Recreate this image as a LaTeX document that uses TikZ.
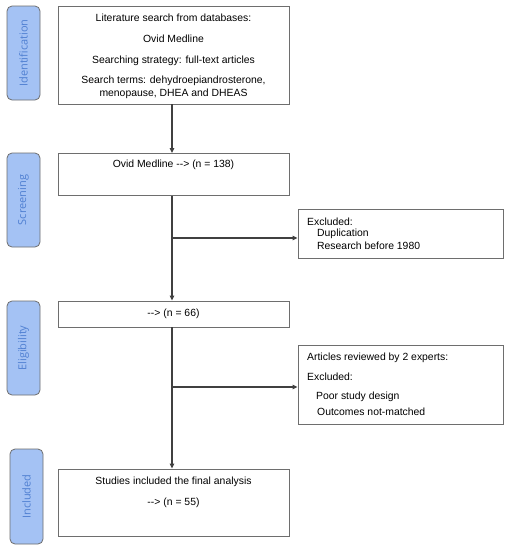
\documentclass[tikz,border=0pt]{standalone}
\usepackage{fontspec}
\setmainfont{Liberation Sans}
\newfontfamily\sidefont{Open Sans}
\usetikzlibrary{arrows.meta}
\definecolor{sidefill}{HTML}{A4C2F4}
\definecolor{sidetext}{HTML}{5080D2}
\definecolor{boxline}{HTML}{6E6E6E}
\definecolor{flowline}{HTML}{404040}
\begin{document}
\begin{tikzpicture}[x=1pt,y=-1pt,
  font=\fontsize{10.4}{12.5}\selectfont,
  sidebox/.style={draw=boxline, fill=sidefill, rounded corners=5pt, line width=0.8pt,
    minimum width=33pt, inner sep=0pt},
  sidelabel/.style={text=sidetext, rotate=90, font=\sidefont\fontsize{11}{13}\selectfont, inner sep=0pt},
  mainbox/.style={draw=boxline, line width=0.9pt, minimum width=231pt, inner sep=0pt},
  sidebox2/.style={draw=boxline, line width=0.9pt, minimum width=205pt, inner sep=0pt},
  txt/.style={inner sep=0pt, anchor=center},
  ltxt/.style={inner sep=0pt, anchor=west},
  flow/.style={draw=flowline, line width=1.1pt},
  arr/.style={flow, -{Triangle[length=5pt,width=4.5pt]}}]
\useasboundingbox (0,0) rectangle (510,550);
\fill[white] (0,0) rectangle (510,550);

% side labels
\node[sidebox, minimum height=94pt] (sid) at (23.5,53) {};
\node[sidelabel] (sidl) at (sid.center) {Identification};
\node[sidebox, minimum height=94pt] (sscr) at (23.5,200) {};
\node[sidelabel] (sscrl) at (sscr.center) {Screening};
\node[sidebox, minimum height=94pt] (selg) at (23.5,348) {};
\node[sidelabel] (selgl) at (selg.center) {Eligibility};
\node[sidebox, minimum height=95pt] (sinc) at (26.5,496.5) {};
\node[sidelabel] (sincl) at (sinc.center) {Included};

% main boxes
\node[mainbox, minimum height=98pt] (b1) at (173.5,55) {};
\node[txt] (b1a) at (173.5,18) {Literature search from databases:};
\node[txt] (b1b) at (173.5,39) {Ovid Medline};
\node[txt] (b1c) at (173.5,60.5) {Searching strategy: full-text articles};
\node[txt, align=center, font=\fontsize{10.4}{13.5}\selectfont] (b1d) at (173.5,87.5) {Search terms: dehydroepiandrosterone,\\menopause, DHEA and DHEAS};

\node[mainbox, minimum height=42pt] (b2) at (173.5,174.5) {};
\node[txt] (b2a) at (173.5,165) {Ovid Medline {-}{-}> (n = 138)};

\node[mainbox, minimum height=26pt] (b3) at (173.5,314) {};
\node[txt] (b3a) at (173.5,314) {{-}{-}> (n = 66)};

\node[mainbox, minimum height=67pt] (b4) at (173.5,502.5) {};
\node[txt] (b4a) at (173.5,482) {Studies included the final analysis};
\node[txt] (b4b) at (173.5,503) {{-}{-}> (n = 55)};

% exclusion boxes
\node[sidebox2, minimum height=49pt] (e1) at (400.5,233.5) {};
\node[ltxt] (e1a) at (307,222) {Excluded:};
\node[ltxt] (e1b) at (317,233.5) {Duplication};
\node[ltxt] (e1c) at (317,246) {Research before 1980};

\node[sidebox2, minimum height=79pt] (e2) at (400.5,384.5) {};
\node[ltxt] (e2a) at (307,358) {Articles reviewed by 2 experts:};
\node[ltxt] (e2b) at (307,377) {Excluded:};
\node[ltxt] (e2c) at (316,397) {Poor study design};
\node[ltxt] (e2d) at (317,412) {Outcomes not-matched};

% connectors
\coordinate (j1) at (172,238);
\coordinate (j2) at (172,387);
\draw[arr] (b1.south -| j1) -- (b2.north -| j1);
\draw[arr] (b2.south -| j1) -- (b3.north -| j1);
\draw[arr] (j1) -- (e1.west |- j1);
\draw[arr] (b3.south -| j2) -- (b4.north -| j2);
\draw[arr] (j2) -- (e2.west |- j2);
\end{tikzpicture}
\end{document}
